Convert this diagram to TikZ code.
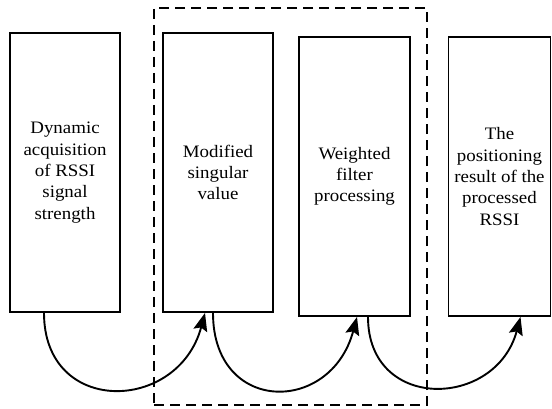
\documentclass[tikz,border=0pt]{standalone}
\usepackage{fontspec}
\setmainfont{Liberation Serif}[FakeStretch=1.08]
\usetikzlibrary{arrows.meta}
\begin{document}
\begin{tikzpicture}[x=1pt,y=1pt,
  blk/.style={draw, line width=1.9pt, inner sep=0pt, align=center,
    minimum height=279pt, font=\fontsize{17.5}{21.3}\selectfont},
  grpbox/.style={draw, line width=1.9pt, dash pattern=on 10pt off 6pt, inner sep=0pt},
  flow/.style={line width=1.9pt, -{Stealth[length=18pt,width=14pt,inset=3pt]}}]
\useasboundingbox (0,0) rectangle (552,408);
\node[grpbox, minimum width=273pt, minimum height=397pt] (grp) at (290.5,201.5) {};
\node[blk, minimum width=110pt] (b1) at (65,235.5) {Dynamic\\acquisition\\of RSSI\\signal\\strength};
\node[blk, minimum width=110pt] (b2) at (218,235.5) {Modified\\singular\\value};
\node[blk, minimum width=111pt] (b3) at (354.5,231.5) {Weighted\\filter\\processing};
\node[blk, minimum width=102pt] (b4) at (499.5,231.5) {The\\positioning\\result of the\\processed\\RSSI};
\draw[flow] ([xshift=-21pt]b1.south) to[out=-90,in=-105,looseness=1.65] ([xshift=-13pt]b2.south);
\draw[flow] ([xshift=-5pt]b2.south) to[out=-90,in=-105,looseness=1.8] ([xshift=2.5pt]b3.south);
\draw[flow] ([xshift=13.5pt]b3.south) to[out=-90,in=-105,looseness=1.6] ([xshift=21pt]b4.south);
\end{tikzpicture}
\end{document}
